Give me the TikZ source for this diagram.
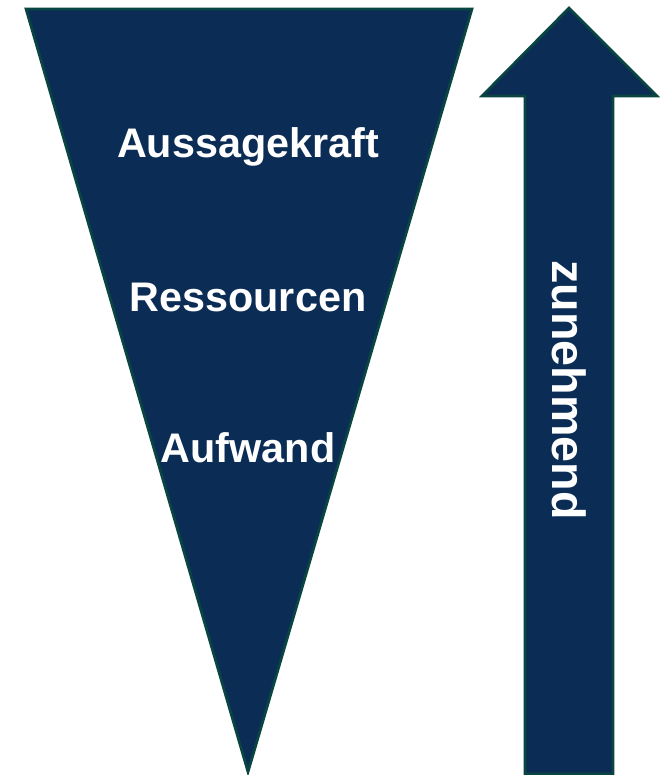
\documentclass[tikz,border=0pt]{standalone}
\usepackage{fontspec}
\setmainfont{Liberation Sans}
\usepackage{tikz}
\usetikzlibrary{positioning}

\definecolor{navy}{HTML}{0B2D55}
\definecolor{rim}{HTML}{0A4641}

\begin{document}
\begin{tikzpicture}[x=0.75pt,y=-0.75pt,
    shapefill/.style={fill=navy, draw=rim, line width=2pt, line join=miter},
    label/.style={text=white, font=\bfseries\fontsize{31}{36}\selectfont, inner sep=0pt}]
      \useasboundingbox (0,0) rectangle (664,775);

      % funnel
      \coordinate (tl) at (26,9);
      \coordinate (tr) at (472,9);
      \coordinate (tip) at (248,772);
      \draw[shapefill] (tl) -- (tr) -- (tip) -- cycle;

      \node[label] (aussage) at (248,147) {Aussagekraft};
      \node[label, below=112.5pt of aussage.center, anchor=center] (ress) {Ressourcen};
      \node[label, below=113pt of ress.center, anchor=center] (aufw) {Aufwand};

      % arrow
      \draw[shapefill] (525,774) -- (525,96) -- (482,96) -- (569,8) -- (657,96)
        -- (613,96) -- (613,774) -- cycle;
      \node[label, font=\bfseries\fontsize{35}{40}\selectfont, rotate=-90] (zun) at (569,390) {zunehmend};
    \end{tikzpicture}
\end{document}
